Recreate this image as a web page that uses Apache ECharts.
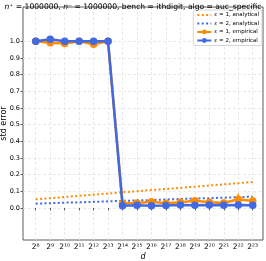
<!DOCTYPE html>
<html><head><meta charset="utf-8">
<script src="https://cdn.jsdelivr.net/npm/echarts@6/dist/echarts.min.js"></script>
<style>html,body{margin:0;padding:0;background:#fff}#c{width:266px;height:261px}</style>
</head><body><div id="c"></div>
<script>
const exponents = [8,9,10,11,12,13,14,15,16,17,18,19,20,21,22,23];
const tickLabels = ['2⁸','2⁹','2¹⁰','2¹¹','2¹²','2¹³','2¹⁴','2¹⁵','2¹⁶','2¹⁷','2¹⁸','2¹⁹','2²⁰','2²¹','2²²','2²³'];
const yTicks = [0,0.1,0.2,0.3,0.4,0.5,0.6,0.7,0.8,0.9,1.0];
const eps1Analytical = [0.052,0.059,0.066,0.073,0.080,0.087,0.094,0.101,0.108,0.114,0.121,0.128,0.135,0.142,0.149,0.156];
const eps2Analytical = [0.026,0.029,0.032,0.034,0.037,0.040,0.043,0.045,0.048,0.051,0.054,0.057,0.059,0.062,0.065,0.068];
const eps1Empirical = [1.0,0.992,0.987,1.0,0.983,1.0,0.028,0.030,0.038,0.028,0.035,0.044,0.034,0.030,0.052,0.042];
const eps1Err = [0.004,0.008,0.008,0.004,0.008,0.004,0.006,0.008,0.022,0.008,0.010,0.012,0.008,0.006,0.035,0.022];
const eps2Empirical = [1.0,1.012,1.0,1.0,1.0,1.0,0.014,0.016,0.014,0.015,0.018,0.016,0.018,0.017,0.018,0.017];
const eps2Err = [0.003,0.004,0.003,0.003,0.003,0.003,0.003,0.003,0.003,0.003,0.003,0.003,0.003,0.003,0.003,0.003];

const ORANGE = '#ff8c00', BLUE = '#4169e1';
const F = 'DejaVu Sans';
const pairs = (ys) => exponents.map((e,i)=>[e, ys[i]]);
const errData = (ys, es) => exponents.map((e,i)=>[e, ys[i]-es[i], ys[i]+es[i]]);
function errItem(color){
  return function(params, api){
    const lo = api.coord([api.value(0), api.value(1)]);
    const hi = api.coord([api.value(0), api.value(2)]);
    return {type:'line', shape:{x1:lo[0],y1:lo[1],x2:hi[0],y2:hi[1]}, style:{stroke:color, lineWidth:1.5}};
  };
}
const chart = echarts.init(document.getElementById('c'), null, {renderer:'canvas'});
chart.setOption({
  animation:false,
  title:{text:'{i|n}⁺ = 1000000, {i|n}⁻ = 1000000, bench = ithdigit, algo = auc_specific', left:'center', top:-2,
    textStyle:{fontFamily:F, fontSize:7.6, fontWeight:'normal', color:'#000',
      rich:{i:{fontFamily:F, fontSize:7.6, fontStyle:'italic', color:'#000'}}}},
  grid:{left:23, right:3, top:7, bottom:21, containLabel:false, outerBoundsMode:'none',
    show:true, borderColor:'#333', borderWidth:0.8, backgroundColor:'transparent'},
  legend:{
    data:[
      {name:'ε = 1, analytical', itemStyle:{opacity:0}},
      {name:'ε = 2, analytical', itemStyle:{opacity:0}},
      {name:'ε = 1, empirical'},
      {name:'ε = 2, empirical'}],
    orient:'vertical', right:4, top:10, itemWidth:14, itemHeight:6, itemGap:2.5,
    padding:[2,3,2,3], backgroundColor:'rgba(255,255,255,0.85)', borderColor:'#ccc', borderWidth:0.8, borderRadius:2,
    textStyle:{fontFamily:F, fontSize:5.5, color:'#000', padding:[0,0,0,-2]}
  },
  xAxis:{type:'value', min:7.12, max:23.71,
    axisLine:{show:false},
    axisTick:{show:true, customValues:exponents, length:2.5, lineStyle:{color:'#333', width:0.8}},
    axisLabel:{customValues:exponents, formatter:(v)=>tickLabels[exponents.indexOf(Math.round(v))], fontFamily:F, fontSize:7.5, color:'#000', margin:3},
    splitLine:{show:true, lineStyle:{color:'#e3e3e3', type:[3,2], width:0.8}},
    name:'d', nameLocation:'middle', nameGap:13, nameMoveOverlap:false,
    nameTextStyle:{fontFamily:F, fontSize:8, fontStyle:'italic', color:'#000'}
  },
  yAxis:{type:'value', min:-0.192, max:1.206,
    axisLine:{show:false},
    axisTick:{show:true, customValues:yTicks, length:2.5, lineStyle:{color:'#333', width:0.8}},
    axisLabel:{customValues:yTicks, formatter:(v)=>v.toFixed(1), fontFamily:F, fontSize:6.5, color:'#000', margin:3},
    splitLine:{show:true, lineStyle:{color:'#e3e3e3', type:[3,2], width:0.8}},
    name:'std error', nameLocation:'middle', nameGap:15.5, nameRotate:90, nameMoveOverlap:false,
    nameTextStyle:{fontFamily:F, fontSize:8, color:'#000'}
  },
  series:[
    {name:'ε = 1, analytical', type:'line', data:pairs(eps1Analytical), symbol:'none', z:2,
      lineStyle:{color:ORANGE, width:2, type:[2,2.4]}, itemStyle:{color:ORANGE}},
    {name:'ε = 2, analytical', type:'line', data:pairs(eps2Analytical), symbol:'none', z:2,
      lineStyle:{color:BLUE, width:2, type:[2,2.4]}, itemStyle:{color:BLUE}},
    {name:'ε1err', type:'custom', data:errData(eps1Empirical, eps1Err), renderItem:errItem(ORANGE), z:3},
    {name:'ε = 1, empirical', type:'line', data:pairs(eps1Empirical), symbol:'circle', symbolSize:7.5, z:3,
      lineStyle:{color:ORANGE, width:2.5}, itemStyle:{color:ORANGE}},
    {name:'ε2err', type:'custom', data:errData(eps2Empirical, eps2Err), renderItem:errItem(BLUE), z:4},
    {name:'ε = 2, empirical', type:'line', data:pairs(eps2Empirical), symbol:'circle', symbolSize:7.5, z:4,
      lineStyle:{color:BLUE, width:2.5}, itemStyle:{color:BLUE}}
  ]
});
</script></body></html>
